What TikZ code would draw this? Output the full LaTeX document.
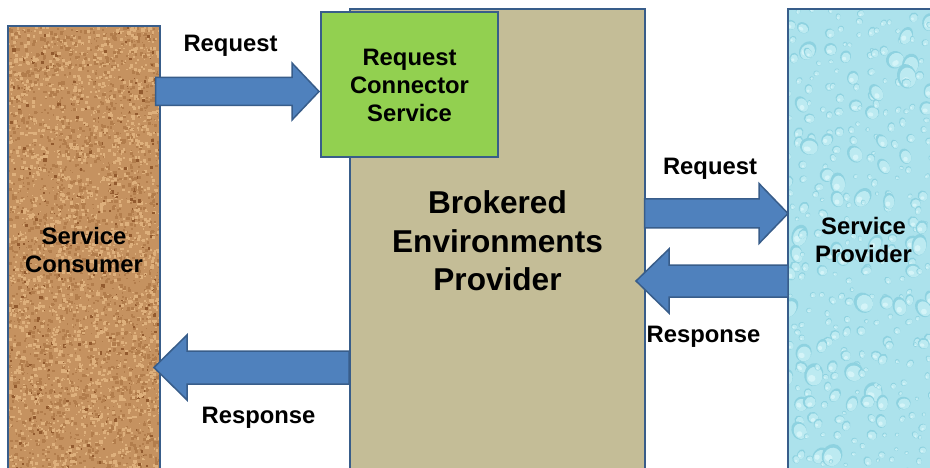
\documentclass[tikz,border=0pt]{standalone}
\usepackage{fontspec}
\setmainfont{Liberation Sans}
\usetikzlibrary{calc}
\definecolor{edgeblue}{RGB}{56,93,138}
\definecolor{arrowblue}{RGB}{79,129,189}
\definecolor{tan}{RGB}{196,189,151}
\definecolor{leaf}{RGB}{146,208,80}
\definecolor{corkbase}{RGB}{197,146,96}
\definecolor{corkdark}{RGB}{146,90,46}
\definecolor{corkmid}{RGB}{178,125,76}
\definecolor{corklight}{RGB}{222,176,124}
\definecolor{waterbase}{RGB}{172,226,236}
\definecolor{waterdark}{RGB}{142,210,224}
\definecolor{waterlight}{RGB}{188,234,241}
\definecolor{waterhigh}{RGB}{212,244,248}
\tikzset{
  panel/.style={draw=edgeblue,line width=2pt,inner sep=0pt,outer sep=0pt,anchor=north west},
  label/.style={font=\bfseries\fontsize{23.8}{28}\selectfont,align=center,text=black,inner sep=0pt},
  biglabel/.style={font=\bfseries\fontsize{31.6}{38.5}\selectfont,align=center,text=black,inner sep=0pt},
  blockarrow/.style n args={3}{draw=edgeblue,fill=arrowblue,line width=1.5pt,line join=miter,
    to path={let \p1=(\tikztostart),\p2=(\tikztotarget),
      \n1={ifthenelse(\x2>\x1,1,-1)*#3*1pt} in
      -- (\x1,\y1+#1*1pt) -- (\x2-\n1,\y1+#1*1pt) -- (\x2-\n1,\y1+#2*1pt) -- (\x2,\y2)
      -- (\x2-\n1,\y1-#2*1pt) -- (\x2-\n1,\y1-#1*1pt) -- (\x1,\y1-#1*1pt) -- cycle}},
}
\begin{document}
\begin{tikzpicture}[x=1pt,y=-1pt]
\useasboundingbox (0,0) rectangle (930,468);
\clip (0,0) rectangle (930,468);
\fill[white] (0,0) rectangle (930,468);
\pgfmathsetseed{4711}
% cork texture
\begin{scope}
\clip (8,26) rectangle (160,468);
\fill[corkbase] (8,26) rectangle (160,468);
\foreach \i in {1,...,4500}{
  \pgfmathsetmacro{\px}{8+152*rnd}
  \pgfmathsetmacro{\py}{26+442*rnd}
  \pgfmathsetmacro{\ps}{1+2.5*rnd}
  \pgfmathsetmacro{\pc}{rnd}
  \pgfmathparse{\pc<0.07?"corkdark":(\pc<0.5?"corkmid":"corklight")}
  \edef\pcol{\pgfmathresult}
  \fill[\pcol] (\px,\py) rectangle ++(\ps,\ps);
}
\end{scope}
% water texture: jittered grid of drops
\begin{scope}
\clip (787,9) rectangle (930,468);
\fill[waterbase] (787,9) rectangle (930,468);
\foreach \cx in {0,...,9}{
 \foreach \cy in {0,...,31}{
  \pgfmathsetmacro{\px}{787+14.5*(\cx+rnd)}
  \pgfmathsetmacro{\py}{9+14.5*(\cy+rnd)}
  \pgfmathsetmacro{\pa}{2+9*rnd*rnd}
  \pgfmathsetmacro{\pb}{\pa*(0.8+0.7*rnd)}
  \pgfmathsetmacro{\pr}{-40+80*rnd}
  \fill[waterdark,rotate around={\pr:(\px,\py)}] (\px,\py) ellipse ({\pa} and {\pb});
  \fill[waterlight,rotate around={\pr:(\px,\py)}] (\px+0.1*\pa,\py+0.12*\pb) ellipse ({0.85*\pa} and {0.82*\pb});
  \fill[waterhigh,rotate around={\pr:(\px,\py)}] (\px-0.15*\pa,\py+0.35*\pb) ellipse ({0.4*\pa} and {0.3*\pb});
 }
}
\end{scope}
% panels
\node[panel,minimum width=152pt,minimum height=460pt] (consumer) at (8,26) {};
\node[panel,fill=tan,minimum width=295pt,minimum height=480pt] (broker) at (350,9) {};
\node[panel,minimum width=160pt,minimum height=480pt] (provider) at (787.5,9) {};
\node[panel,fill=leaf,minimum width=177pt,minimum height=145pt] (connector) at (321,12) {};
% panel labels
\node[label] (consumerlabel) at (84,249.5) {Service\\Consumer};
\node[label] (providerlabel) at (863.5,240) {Service\\Provider};
\node[label] (connectorlabel) at (409.5,85.5) {Request\\Connector\\Service};
\node[biglabel] (brokerlabel) at (497.5,241) {Brokered\\Environments\\Provider};
% connector ends
\coordinate (a1s) at (155.5,91.5);
\coordinate (a1e) at (319,91.5);
\coordinate (a2s) at (644.5,213.5);
\coordinate (a2e) at (788,213.5);
\coordinate (a3s) at (788,281);
\coordinate (a3e) at (636,281);
\coordinate (a4s) at (349,367.5);
\coordinate (a4e) at (154,367.5);
% arrows
\path[blockarrow={14}{28.5}{27}] (a1s) to (a1e);
\path[blockarrow={14.5}{30}{29}] (a2s) to (a2e);
\path[blockarrow={16}{32}{33}] (a3s) to (a3e);
\path[blockarrow={16.5}{32.5}{33}] (a4s) to (a4e);
% arrow labels
\node[label] (req1) at (230.5,46) {Request};
\node[label] (req2) at (710,169) {Request};
\node[label] (resp1) at (703.5,337) {Response};
\node[label] (resp2) at (258.5,418) {Response};
\end{tikzpicture}
\end{document}
